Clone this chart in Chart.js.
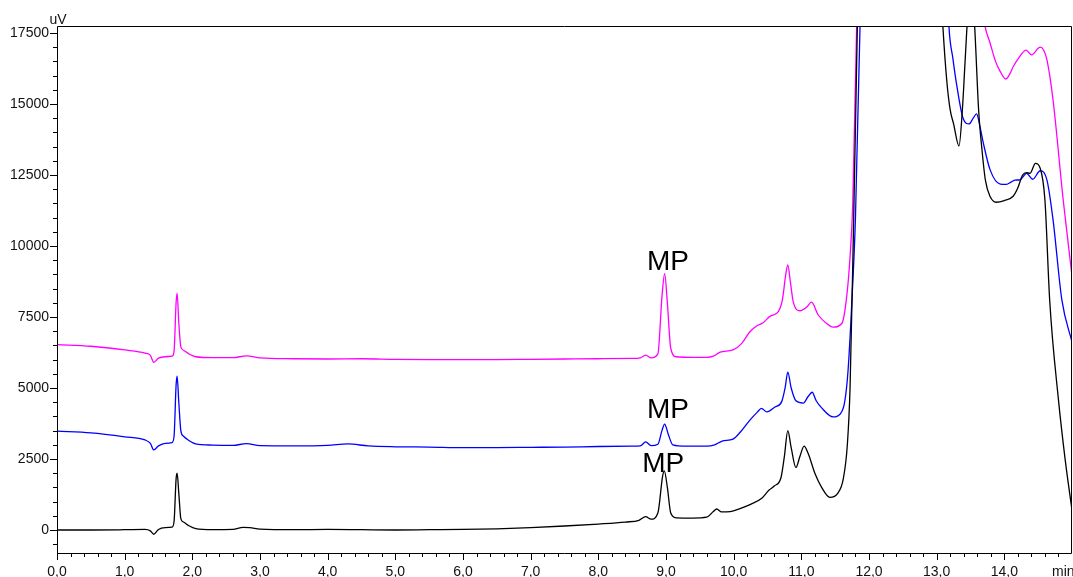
<!DOCTYPE html>
<html><head><meta charset="utf-8">
<script src="https://cdn.jsdelivr.net/npm/chart.js@4.4.0/dist/chart.umd.min.js"></script>
<style>html,body{margin:0;padding:0;background:#fff;overflow:hidden;} #wrap{width:1073px;height:577px;position:relative;}</style>
</head><body><div id="wrap"><canvas id="c" width="1073" height="577"></canvas></div>
<script>
// ---- data (time in min, signal in uV) ----
const blackTimes = [0.0,0.5,1.0,1.3,1.38,1.43,1.5,1.6,1.7,1.73,1.76,1.775,1.80,1.83,1.87,1.95,2.05,2.3,2.6,2.75,2.85,3.0,3.5,4.0,4.5,5.0,5.5,6.0,6.5,7.0,7.5,8.0,8.4,8.6,8.7,8.78,8.88,8.95,8.975,9.02,9.07,9.15,9.4,9.6,9.7,9.75,9.82,9.95,10.1,10.25,10.42,10.52,10.6,10.7,10.75,10.8,10.85,10.92,10.98,11.04,11.1,11.2,11.3,11.42,11.54,11.62,11.68,11.72,11.77,11.83,11.9,12.3,12.8,13.0,13.09,13.15,13.2,13.25,13.33,13.38,13.42,13.47,13.52,13.56,13.62,13.67,13.72,13.79,13.88,14.0,14.13,14.2,14.27,14.33,14.38,14.46,14.53,14.6,14.67,14.8,14.9,15.0];
const blackValues = [0,0,10,20,-30,-150,20,80,100,300,1800,2000,1300,400,280,150,50,10,20,90,80,30,10,20,10,0,10,20,40,80,140,210,280,340,470,380,600,1900,2080,1500,600,430,420,450,650,740,640,650,760,900,1130,1400,1550,1850,2600,3500,2900,2200,2600,2950,2700,2000,1500,1150,1300,1800,3000,5000,10500,18000,28000,45000,40000,22000,17800,15800,14790,14300,13520,14800,16500,18500,19000,17800,14790,13380,12320,11740,11540,11600,11750,12050,12500,12580,12560,12910,12740,11620,8100,4580,2460,700];

const blueTimes = [0.0,0.5,1.0,1.3,1.38,1.43,1.5,1.6,1.7,1.73,1.76,1.775,1.80,1.83,1.87,1.95,2.05,2.3,2.6,2.8,3.0,3.5,4.0,4.3,4.6,5.0,5.5,6.0,6.5,7.0,7.5,8.0,8.5,8.62,8.7,8.78,8.88,8.94,8.98,9.03,9.1,9.3,9.6,9.72,9.83,9.99,10.1,10.24,10.35,10.41,10.49,10.61,10.71,10.76,10.8,10.85,10.92,11.03,11.1,11.16,11.22,11.3,11.47,11.58,11.64,11.69,11.75,11.8,11.87,11.95,12.5,13.0,13.18,13.24,13.3,13.39,13.48,13.54,13.59,13.64,13.69,13.79,13.94,14.03,14.1,14.16,14.23,14.33,14.42,14.53,14.63,14.72,14.85,15.0];
const blueValues = [3480,3420,3280,3170,3050,2820,2960,3050,3080,3300,5100,5420,4500,3500,3300,3150,3030,2990,2980,3040,2970,2960,2980,3030,2960,2930,2920,2900,2900,2910,2920,2940,2950,2960,3100,2970,3020,3500,3730,3400,3000,2950,2950,3000,3130,3200,3450,3870,4150,4280,4160,4330,4520,5000,5560,5000,4550,4470,4700,4850,4550,4300,3980,4100,4500,5600,8200,11000,18000,30000,45000,30000,17800,16600,15610,14500,14300,14500,14650,14200,13620,12680,12180,12170,12250,12320,12330,12560,12350,12650,12320,10920,8100,6620];

const magentaTimes = [0.0,0.5,1.0,1.3,1.38,1.43,1.5,1.6,1.7,1.73,1.76,1.775,1.80,1.83,1.87,1.95,2.05,2.3,2.6,2.8,3.0,3.5,4.0,4.5,5.0,5.5,6.0,6.5,7.0,7.5,8.0,8.5,8.62,8.7,8.78,8.88,8.94,8.98,9.02,9.07,9.15,9.4,9.6,9.7,9.8,9.99,10.12,10.24,10.35,10.43,10.54,10.66,10.72,10.77,10.8,10.84,10.88,10.98,11.08,11.15,11.25,11.37,11.47,11.6,11.67,11.72,11.76,11.82,11.9,12.5,13.2,13.6,13.71,13.79,13.87,13.94,14.02,14.08,14.13,14.23,14.32,14.40,14.53,14.58,14.63,14.72,14.87,15.0];
const magentaValues = [6530,6470,6340,6230,6150,5900,6050,6100,6120,6300,8000,8330,7300,6450,6330,6200,6100,6070,6070,6130,6060,6030,6020,6030,6010,6000,6000,6000,6010,6020,6030,6040,6060,6160,6060,6200,8200,9030,8000,6400,6100,6080,6080,6120,6260,6340,6570,6980,7200,7290,7530,7690,8100,9000,9330,8700,8040,7720,7850,8020,7570,7280,7140,7280,8210,9620,11500,18000,30000,45000,40000,20000,17800,17140,16500,16140,15880,16050,16310,16680,16900,16730,17000,16900,16550,15140,11620,8950];

const xTickValues = [0,1,2,3,4,5,6,7,8,9,10,11,12,13,14];
const yTickValues = [0,2500,5000,7500,10000,12500,15000,17500];
const mpTimes = [8.96, 9.03, 9.03];
const mpValues = [2040, 3940, 9150];
const mpLabels = ['MP', 'MP', 'MP'];
const yAxisTitle = 'uV';
const xAxisTitle = 'min';

function toXY(ts, vs) { return ts.map((t, i) => ({ x: t, y: vs[i] })); }

const decor = {
  id: 'decor',
  afterDraw(chart) {
    const ctx = chart.ctx, a = chart.chartArea;
    const xs = chart.scales.x, ys = chart.scales.y;
    ctx.save();
    ctx.strokeStyle = '#000';
    ctx.lineWidth = 1;
    // frame
    ctx.beginPath();
    ctx.rect(Math.round(a.left) + 0.5, Math.round(a.top) + 0.5, Math.round(a.right - a.left) - 1, Math.round(a.bottom - a.top));
    ctx.stroke();
    // y ticks
    ctx.beginPath();
    for (let v = -500; v <= 17500; v += 500) {
      const p = Math.round(ys.getPixelForValue(v)) + 0.5;
      const len = (v % 2500 === 0) ? 7 : 4;
      ctx.moveTo(Math.round(a.left) - len, p);
      ctx.lineTo(Math.round(a.left), p);
    }
    // x ticks
    for (let i = 0; i < 75; i++) {
      const t = i * 0.2;
      const p = Math.round(xs.getPixelForValue(t)) + 0.5;
      const len = (i % 5 === 0) ? 7 : 4;
      ctx.moveTo(p, Math.round(a.bottom));
      ctx.lineTo(p, Math.round(a.bottom) + len);
    }
    ctx.stroke();
    // axis titles
    ctx.fillStyle = '#111';
    ctx.font = '14px "Liberation Sans", Arial, sans-serif';
    ctx.textAlign = 'center';
    ctx.textBaseline = 'alphabetic';
    ctx.fillText(yAxisTitle, a.left + 1, a.top - 2);
    ctx.textAlign = 'left';
    ctx.textBaseline = 'middle';
    ctx.fillText(xAxisTitle, a.right - 20, a.bottom + 19.5);
    // MP labels
    ctx.fillStyle = '#000';
    ctx.font = '28px "Liberation Sans", Arial, sans-serif';
    ctx.textAlign = 'center';
    ctx.textBaseline = 'alphabetic';
    for (let i = 0; i < mpLabels.length; i++) {
      ctx.fillText(mpLabels[i], xs.getPixelForValue(mpTimes[i]), ys.getPixelForValue(mpValues[i]));
    }
    ctx.restore();
  }
};

const lineOpts = { borderWidth: 1.3, pointRadius: 0, fill: false, cubicInterpolationMode: 'monotone' };

new Chart(document.getElementById('c'), {
  type: 'line',
  data: {
    datasets: [
      Object.assign({ label: 'black', data: toXY(blackTimes, blackValues), borderColor: '#000000' }, lineOpts),
      Object.assign({ label: 'blue', data: toXY(blueTimes, blueValues), borderColor: '#0000ff' }, lineOpts),
      Object.assign({ label: 'magenta', data: toXY(magentaTimes, magentaValues), borderColor: '#ff00ff' }, lineOpts)
    ]
  },
  options: {
    responsive: false,
    animation: false,
    devicePixelRatio: 1,
    layout: { padding: { top: 26, right: 1, left: 0, bottom: 0 } },
    plugins: { legend: { display: false }, tooltip: { enabled: false } },
    scales: {
      x: {
        type: 'linear', min: 0, max: 15,
        afterBuildTicks: s => { s.ticks = xTickValues.map(v => ({ value: v })); },
        afterFit: s => { s.height = 24; },
        grid: { display: false, drawTicks: false },
        border: { display: false },
        ticks: {
          autoSkip: false, maxRotation: 0, padding: 11, color: '#111',
          font: { size: 14, family: '"Liberation Sans", Arial, sans-serif' },
          callback: v => v.toFixed(1).replace('.', ',')
        }
      },
      y: {
        type: 'linear', min: -810, max: 17746,
        afterBuildTicks: s => { s.ticks = yTickValues.map(v => ({ value: v })); },
        afterFit: s => { s.width = 57; },
        grid: { display: false, drawTicks: false },
        border: { display: false },
        ticks: {
          padding: 8, color: '#111',
          font: { size: 14, family: '"Liberation Sans", Arial, sans-serif' },
          callback: v => String(v)
        }
      }
    }
  },
  plugins: [decor]
});
</script>
</body></html>
